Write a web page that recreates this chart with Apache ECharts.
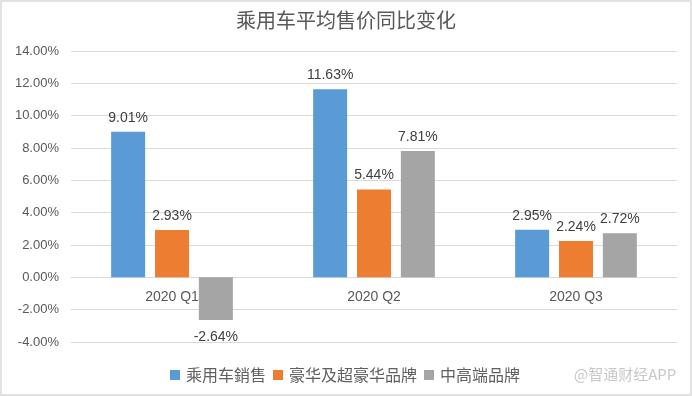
<!DOCTYPE html>
<html>
<head>
<meta charset="utf-8">
<script src="https://cdn.jsdelivr.net/npm/echarts@6/dist/echarts.min.js"></script>
<style>
  html, body { margin: 0; padding: 0; background: #fff; }
  #main { width: 692px; height: 396px; }
</style>
</head>
<body>
<div id="main"></div>
<script>
// 季度
var quarters = ['2020 Q1', '2020 Q2', '2020 Q3'];
// 系列名
var seriesNames = ['乘用车銷售', '豪华及超豪华品牌', '中高端品牌'];
// 同比变化 (%)
var salesAvg = [9.01, 11.63, 2.95];
var luxuryAvg = [2.93, 5.44, 2.24];
var midHighAvg = [-2.64, 7.81, 2.72];
var colors = ['#5B9BD5', '#ED7D31', '#A5A5A5'];

var cjk = '"Noto Sans CJK SC", "Liberation Sans", sans-serif';

var myChart = echarts.init(document.getElementById('main'));

var labelStyle = {
    show: true,
    position: 'top',
    distance: 7,
    color: '#404040',
    fontSize: 14,
    fontFamily: 'Liberation Sans',
    formatter: function (p) {
        return p.value.toFixed(2) + '%';
    }
};

var makeBar = function (idx, data) {
    return {
        name: seriesNames[idx],
        type: 'bar',
        barWidth: 34,
        barGap: '29%',
        itemStyle: { color: colors[idx] },
        label: labelStyle,
        data: data.map(function (v) {
            if (v < 0) {
                return { value: v, label: { position: 'bottom', distance: 10 } };
            }
            return v;
        })
    };
};

var option = {
    animation: false,
    title: {
        text: '乘用车平均售价同比变化',
        left: 'center',
        top: 5,
        textStyle: {
            color: '#595959',
            fontSize: 20,
            fontWeight: 'normal',
            fontFamily: cjk
        }
    },
    graphic: [
        {
            type: 'rect',
            shape: { x: 1, y: 1, width: 690, height: 394 },
            style: { fill: 'none', stroke: '#e2e2e2', lineWidth: 2 },
            silent: true
        },
        {
            type: 'text',
            left: 574,
            top: 367,
            style: {
                text: '@智通财经APP',
                fill: '#c8c8c8',
                fontSize: 15,
                fontFamily: cjk
            },
            silent: true
        }
    ],
    legend: {
        data: seriesNames,
        left: 165,
        top: 362,
        itemWidth: 10,
        itemHeight: 10,
        itemGap: 7,
        icon: 'rect',
        textStyle: {
            color: '#606060',
            fontSize: 16,
            fontFamily: cjk,
            padding: [0, 0, 0, 1]
        }
    },
    grid: {
        left: 71,
        right: 15,
        top: 51,
        bottom: 54
    },
    xAxis: {
        type: 'category',
        data: quarters,
        offset: -65,
        axisLine: { show: false },
        axisTick: { show: false },
        axisLabel: {
            color: '#595959',
            fontSize: 14,
            fontFamily: 'Liberation Sans',
            margin: 13
        }
    },
    yAxis: {
        type: 'value',
        min: -4,
        max: 14,
        interval: 2,
        axisLine: { show: false },
        axisTick: { show: false },
        splitLine: { lineStyle: { color: '#d9d9d9' } },
        axisLabel: {
            color: '#595959',
            fontSize: 13,
            fontFamily: 'Liberation Sans',
            margin: 12,
            formatter: function (v) {
                return v.toFixed(2) + '%';
            }
        }
    },
    series: [
        makeBar(0, salesAvg),
        makeBar(1, luxuryAvg),
        makeBar(2, midHighAvg)
    ]
};

option && myChart.setOption(option);
</script>
</body>
</html>
